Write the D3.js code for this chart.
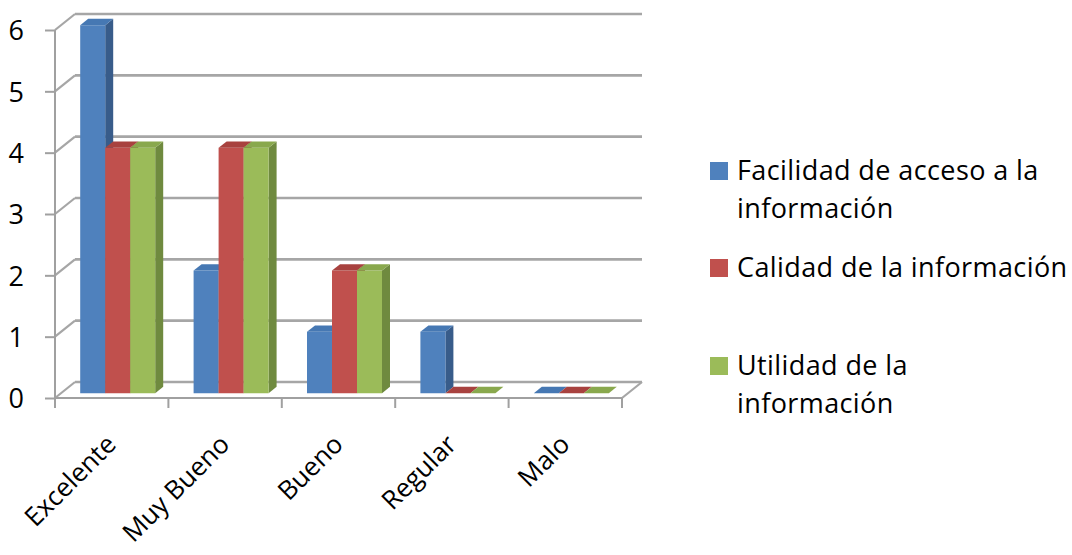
<!DOCTYPE html>
<html>
<head>
<meta charset="utf-8">
<script src="https://cdn.jsdelivr.net/npm/d3@7"></script>
<style>
  html, body { margin: 0; padding: 0; background: #fff; }
  svg { display: block; }
  text { font-family: "Open Sans", sans-serif; fill: #000; font-variant-ligatures: none; }
</style>
</head>
<body>
<svg id="chart" width="1072" height="555"></svg>
<script>
// Ratings per category for each aspect evaluated
const categories = ["Excelente", "Muy Bueno", "Bueno", "Regular", "Malo"];
const seriesNames = [
  "Facilidad de acceso a la\ninformación",
  "Calidad de la información",
  "Utilidad de la\ninformación"
];
const facilidad = [6, 2, 1, 1, 0];
const calidad   = [4, 4, 2, 0, 0];
const utilidad  = [4, 4, 2, 0, 0];
const yTicks = [0, 1, 2, 3, 4, 5, 6];

const seriesValues = [facilidad, calidad, utilidad];
const colors = {
  front: ["#4F81BD", "#C0504D", "#9BBB59"],
  side:  ["#385C8A", "#8E3A38", "#6F8A3F"],
  top:   ["#4678B3", "#A8423F", "#89A84D"]
};
const fontSize = 27;
const letterSpacing = "0.4px";

const svg = d3.select("#chart");

// Front plane of the 3D box and the depth vector toward the back wall
const x0 = d3.scaleBand().domain(categories).range([55, 622]).padding(0);
const x1 = d3.scaleBand().domain(d3.range(seriesNames.length))
  .range([0, x0.bandwidth()]).paddingInner(0).paddingOuter(0.768);
const y = d3.scaleLinear().domain([0, 6]).range([398, 30]);
const depth = { dx: 20, dy: -16 };
const proj = (px, py, d) => [px + depth.dx * d, py + depth.dy * d];

const grid = svg.append("g");
const gridColor = "#A6A6A6";

// Back wall and side wall gridlines
yTicks.forEach(v => {
  const [bx0, by] = proj(x0.range()[0], y(v), 1);
  const [bx1] = proj(x0.range()[1], y(v), 1);
  grid.append("line").attr("x1", bx0).attr("y1", by).attr("x2", bx1).attr("y2", by)
    .attr("stroke", gridColor).attr("stroke-width", 2.6);
  grid.append("line").attr("x1", x0.range()[0]).attr("y1", y(v)).attr("x2", bx0).attr("y2", by)
    .attr("stroke", gridColor).attr("stroke-width", 2.2);
});
// Floor right edge
{
  const [fx, fy] = proj(x0.range()[1], y(0), 1);
  grid.append("line").attr("x1", x0.range()[1]).attr("y1", y(0)).attr("x2", fx).attr("y2", fy)
    .attr("stroke", gridColor).attr("stroke-width", 2.2);
}

// Bars drawn as 3D prisms
const barFront = 0.3, barBack = 0.7;
const bars = svg.append("g");
categories.forEach((c, ci) => {
  seriesValues.forEach((vals, si) => {
    const v = vals[ci];
    const xl = x0(c) + x1(si), xr = xl + x1.bandwidth();
    const yt = y(v), yb = y(0);
    const fl = proj(xl, yt, barFront), fr = proj(xr, yt, barFront);
    const flb = proj(xl, yb, barFront), frb = proj(xr, yb, barFront);
    const bl = proj(xl, yt, barBack), br = proj(xr, yt, barBack);
    const brb = proj(xr, yb, barBack);
    const poly = pts => pts.map(p => p.join(",")).join(" ");
    if (v > 0) {
      bars.append("polygon").attr("points", poly([fr, br, brb, frb]))
        .attr("fill", colors.side[si]);
      bars.append("polygon").attr("points", poly([fl, fr, frb, flb]))
        .attr("fill", colors.front[si]);
    }
    bars.append("polygon").attr("points", poly([fl, bl, br, fr]))
      .attr("fill", colors.top[si]);
  });
});

// Axes
const axisColor = "#A0A0A0";
const yAxis = svg.append("g").attr("transform", `translate(${x0.range()[0]},0)`)
  .call(d3.axisLeft(y).tickValues(yTicks).tickSize(10).tickPadding(0).tickFormat(d3.format("d")));
yAxis.select(".domain").attr("stroke", axisColor).attr("stroke-width", 2)
  .attr("d", `M0,${y(6)}V${y(0)}`);
yAxis.selectAll(".tick line").attr("stroke", axisColor).attr("stroke-width", 2);
yAxis.selectAll(".tick text").attr("x", -31).attr("dy", "0.36em")
  .style("font-size", fontSize + "px").style("font-family", "'Open Sans', sans-serif").attr("fill", "#000");

const xAxis = svg.append("g").attr("transform", `translate(0,${y(0)})`)
  .call(d3.axisBottom(x0).tickSize(0).tickPadding(0));
xAxis.select(".domain").attr("stroke", axisColor).attr("stroke-width", 2)
  .attr("d", `M${x0.range()[0]},0H${x0.range()[1]}`);
// Tick marks on category boundaries
const bounds = categories.map(c => x0(c)).concat([x0.range()[1]]);
xAxis.selectAll(".boundary").data(bounds).join("line").attr("class", "boundary")
  .attr("x1", d => d).attr("x2", d => d).attr("y1", 0).attr("y2", 10)
  .attr("stroke", axisColor).attr("stroke-width", 2);
xAxis.selectAll(".tick line").remove();
xAxis.selectAll(".tick text")
  .attr("text-anchor", "end").attr("y", 0).attr("dy", 0)
  .attr("transform", "translate(6,48) rotate(-45)")
  .style("font-size", "26px")
  .style("font-family", "'Open Sans', sans-serif").attr("fill", "#000");

// Legend
const legend = svg.append("g");
const legendTops = [162, 259, 357];
seriesNames.forEach((name, i) => {
  legend.append("rect").attr("x", 710).attr("y", legendTops[i])
    .attr("width", 18).attr("height", 18).attr("fill", colors.front[i]);
  const t = legend.append("text").attr("x", 737).attr("y", legendTops[i] + 18)
    .style("font-size", fontSize + "px").style("letter-spacing", letterSpacing);
  name.split("\n").forEach((line, li) => {
    t.append("tspan").attr("x", 737).attr("dy", li === 0 ? 0 : 38).text(line);
  });
});
</script>
</body>
</html>
